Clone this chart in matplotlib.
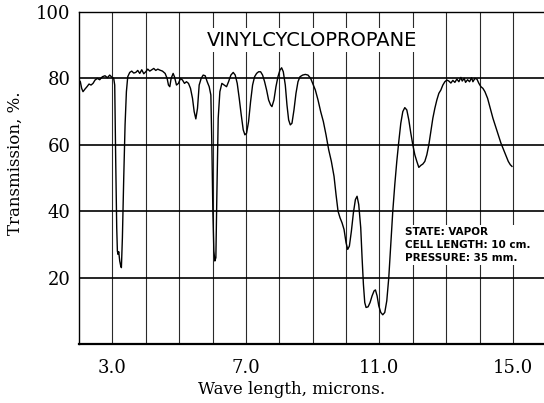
import matplotlib
matplotlib.use("Agg")
import matplotlib.pyplot as plt
from matplotlib.ticker import FixedLocator

# Spectrum (wavelength in microns, transmission in %)
wavelength = [
    2.00, 2.04, 2.08, 2.12, 2.18, 2.24, 2.30, 2.36, 2.42, 2.48, 2.55, 2.62, 2.70, 2.78, 2.85,
    2.92, 2.98, 3.04, 3.07, 3.10, 3.13, 3.15, 3.17, 3.19, 3.22, 3.25, 3.27, 3.30, 3.34, 3.38,
    3.42, 3.46, 3.52, 3.58, 3.64, 3.70, 3.76, 3.82, 3.88, 3.94, 4.00, 4.06, 4.12, 4.18, 4.24,
    4.30, 4.36, 4.42, 4.50, 4.58, 4.64, 4.68, 4.72, 4.76, 4.82, 4.86, 4.92, 4.98, 5.04, 5.10,
    5.16, 5.22, 5.28, 5.34, 5.40, 5.45, 5.50, 5.55, 5.60, 5.66, 5.72, 5.78, 5.84, 5.90, 5.95,
    5.98, 6.01, 6.04, 6.07, 6.10, 6.13, 6.17, 6.22, 6.28, 6.35, 6.42, 6.48, 6.55, 6.62, 6.68,
    6.74, 6.80, 6.86, 6.92, 6.97, 7.02, 7.08, 7.14, 7.20, 7.26, 7.32, 7.38, 7.44, 7.50, 7.56,
    7.62, 7.68, 7.74, 7.78, 7.84, 7.90, 7.96, 8.02, 8.07, 8.12, 8.18, 8.23, 8.28, 8.33, 8.38,
    8.44, 8.50, 8.56, 8.62, 8.70, 8.78, 8.86, 8.94, 9.00, 9.08, 9.16, 9.24, 9.32, 9.40, 9.48,
    9.56, 9.64, 9.70, 9.76, 9.82, 9.88, 9.94, 10.00, 10.05, 10.10, 10.16, 10.22, 10.28, 10.33, 10.38,
    10.44, 10.48, 10.52, 10.56, 10.60, 10.66, 10.72, 10.78, 10.84, 10.88, 10.93, 10.98, 11.04, 11.10, 11.16,
    11.22, 11.28, 11.34, 11.40, 11.46, 11.52, 11.58, 11.64, 11.70, 11.76, 11.82, 11.88, 11.94, 12.00, 12.06,
    12.12, 12.18, 12.24, 12.30, 12.36, 12.42, 12.48, 12.54, 12.60, 12.66, 12.72, 12.78, 12.84, 12.90, 12.96,
    13.02, 13.08, 13.14, 13.20, 13.26, 13.32, 13.38, 13.44, 13.48, 13.54, 13.58, 13.64, 13.70, 13.76, 13.80,
    13.86, 13.92, 13.98, 14.04, 14.10, 14.16, 14.24, 14.32, 14.40, 14.48, 14.56, 14.64, 14.72, 14.80, 14.86,
    14.92, 14.97,
]
transmission = [
    79.5, 79.0, 77.0, 76.0, 76.8, 77.5, 78.3, 78.0, 78.5, 79.5, 80.0, 79.6, 80.5, 80.8, 80.2,
    81.0, 80.4, 80.0, 78.0, 55.0, 35.0, 28.0, 27.0, 27.8, 25.0, 23.5, 23.0, 32.0, 50.0, 66.0,
    76.0, 80.5, 81.8, 82.2, 81.6, 81.8, 82.4, 81.5, 82.6, 81.4, 82.0, 82.8, 82.2, 82.6, 83.0,
    82.4, 82.8, 82.5, 82.2, 81.5, 80.0, 78.0, 77.5, 80.0, 81.5, 80.5, 78.0, 78.5, 80.0, 79.5,
    78.5, 79.0, 78.5, 77.0, 74.0, 70.0, 67.8, 71.0, 78.0, 80.0, 81.0, 80.8, 79.0, 77.5, 75.0,
    60.0, 40.0, 28.0, 25.0, 26.0, 45.0, 68.0, 76.0, 78.5, 78.0, 77.5, 79.0, 81.0, 81.8, 81.0,
    78.5, 74.0, 69.0, 64.5, 63.0, 63.5, 67.0, 73.0, 78.0, 80.5, 81.5, 82.0, 82.0, 81.0, 79.0,
    76.5, 73.5, 72.0, 71.5, 73.5, 77.5, 80.5, 82.5, 83.2, 82.0, 78.0, 72.0, 67.5, 66.0, 66.5,
    70.5, 75.5, 79.0, 80.5, 81.0, 81.2, 81.0, 80.0, 78.5, 76.5, 73.5, 70.0, 67.0, 63.0, 58.5,
    55.0, 50.5, 45.0, 40.0, 38.0, 36.5, 34.5, 30.5, 28.5, 29.5, 34.0, 39.5, 43.5, 44.5, 42.0,
    35.0, 26.0, 18.0, 12.5, 11.0, 11.2, 12.5, 14.5, 16.0, 16.3, 14.5, 11.5, 9.5, 8.8, 9.5,
    13.0, 20.0, 30.0, 40.0, 48.0, 55.0, 61.0, 66.5, 70.0, 71.2, 70.5, 67.5, 63.5, 60.0, 57.0,
    55.0, 53.2, 53.8, 54.2, 55.0, 57.0, 60.0, 64.0, 68.0, 71.0, 73.5, 75.5, 76.5, 78.0, 79.0,
    79.5, 79.2, 78.6, 79.4, 78.8, 79.8, 79.0, 80.3, 79.2, 80.0, 78.8, 79.6, 79.0, 80.2, 79.0,
    80.0, 79.8, 78.5, 77.5, 77.0, 76.0, 74.0, 71.0, 68.0, 65.5, 63.0, 60.5, 58.5, 56.5, 55.0,
    54.0, 53.5,
]

label_ticks = [3, 7, 11, 15]
grid_x = list(range(3, 16))
grid_y = [20, 40, 60, 80]
y_ticks = [20, 40, 60, 80, 100]

serif = ["DejaVu Serif"]

fig = plt.figure(figsize=(5.44, 4.03), dpi=100)
ax = fig.add_axes([79 / 544, 59 / 403, 1 - 79 / 544, 332 / 403])

for x in grid_x:
    ax.axvline(x, color="#2a2a2a", lw=0.8, zorder=1)
for y in grid_y:
    ax.axhline(y, color="black", lw=1.2, zorder=1)

ax.plot(wavelength, transmission, color="black", lw=1.0, zorder=3)

ax.set_xlim(2.0, 15.93)
ax.set_ylim(0, 100)
ax.xaxis.set_major_locator(FixedLocator(label_ticks))
ax.set_xticklabels([f"{t:.1f}" for t in label_ticks], family=serif, fontsize=13)
ax.set_yticks(y_ticks)
ax.set_yticklabels([str(t) for t in y_ticks], family=serif, fontsize=13)
ax.tick_params(axis="both", length=0)
ax.tick_params(axis="x", pad=11)
ax.tick_params(axis="y", pad=6)

ax.spines["right"].set_visible(False)
ax.spines["left"].set_linewidth(1.0)
ax.spines["top"].set_linewidth(1.0)
ax.spines["bottom"].set_linewidth(1.6)

fig.text(292 / 544, 1 - 389 / 403, "Wave length, microns.", family=serif,
         fontsize=12, ha="center", va="center")
fig.text(15 / 544, 1 - 163 / 403, "Transmission, %.", family=serif,
         fontsize=12, ha="center", va="center", rotation=90)

ax.text((312 - 79) / 465, (344 - 40) / 332, "VINYLCYCLOPROPANE",
        transform=ax.transAxes, family=["DejaVu Sans"], fontsize=14,
        ha="center", va="center", zorder=4,
        bbox=dict(facecolor="white", edgecolor="none", pad=2))

ax.text((405 - 79) / 465, (344 - 245) / 332,
        "STATE: VAPOR\nCELL LENGTH: 10 cm.\nPRESSURE: 35 mm.",
        transform=ax.transAxes, family=["DejaVu Sans"], fontsize=7.5,
        fontweight="bold", ha="left", va="center", linespacing=1.35, zorder=4,
        bbox=dict(facecolor="white", edgecolor="none", pad=1.5))

fig.savefig("out.png", dpi=100)
